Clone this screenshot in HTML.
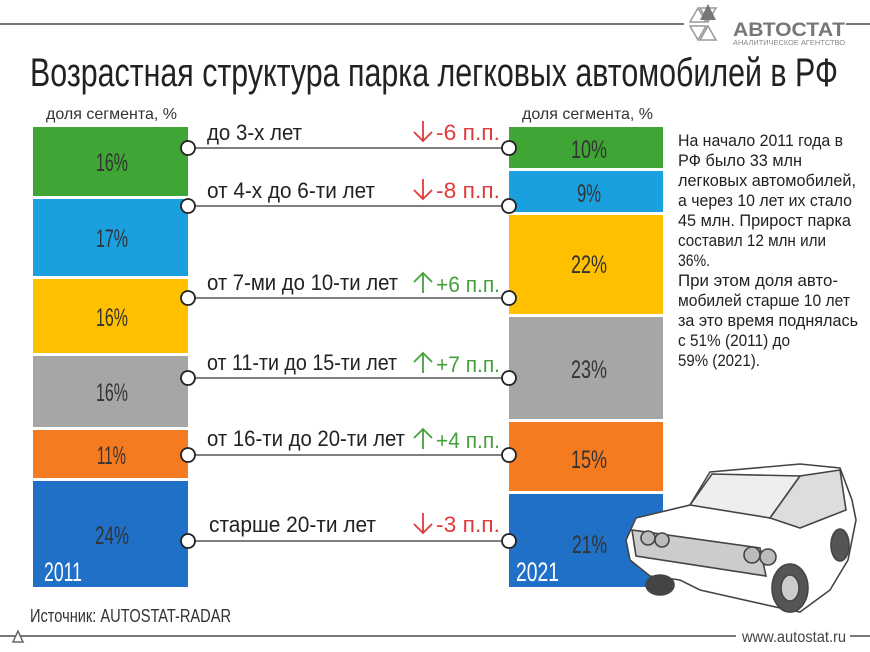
<!DOCTYPE html>
<html><head><meta charset="utf-8"><style>
html,body{margin:0;padding:0;background:#fff;}
svg{display:block;}
text{font-family:"Liberation Sans Narrow","Liberation Sans",sans-serif;}
</style></head><body>
<svg width="870" height="652" viewBox="0 0 870 652" xmlns="http://www.w3.org/2000/svg">
<rect width="870" height="652" fill="#fff"/>
<line x1="0" y1="24" x2="684" y2="24" stroke="#777" stroke-width="2"/>
<line x1="846" y1="24" x2="870" y2="24" stroke="#777" stroke-width="2"/>
<g fill="none" stroke="#999" stroke-width="1.5">
<polygon points="690,22 698,8 706,22"/><polygon points="700,8 716,8 708,22"/>
<polygon points="690,26 706,26 698,40"/><polygon points="708,26 716,40 700,40"/>
</g>
<polygon points="708,4 716,20 700,20" fill="#777"/>
<text x="733" y="36" font-size="19" font-weight="bold" fill="#777" textLength="112" lengthAdjust="spacingAndGlyphs">АВТОСТАТ</text>
<text x="733" y="45" font-size="7" fill="#888" textLength="112" lengthAdjust="spacingAndGlyphs">АНАЛИТИЧЕСКОЕ АГЕНТСТВО</text>
<text x="30" y="86" font-size="40" fill="#222" textLength="808" lengthAdjust="spacingAndGlyphs">Возрастная структура парка легковых автомобилей в РФ</text>
<text x="46" y="119" font-size="16" fill="#333" textLength="131" lengthAdjust="spacingAndGlyphs">доля сегмента, %</text>
<text x="522" y="119" font-size="16" fill="#333" textLength="131" lengthAdjust="spacingAndGlyphs">доля сегмента, %</text>
<rect x="33" y="127" width="155" height="69" fill="#3fa535"/>
<rect x="33" y="199" width="155" height="77" fill="#1ba0df"/>
<rect x="33" y="279" width="155" height="74" fill="#ffc000"/>
<rect x="33" y="356" width="155" height="71" fill="#a6a6a6"/>
<rect x="33" y="430" width="155" height="48" fill="#f47b20"/>
<rect x="33" y="481" width="155" height="106" fill="#1f70c6"/>
<rect x="509" y="127" width="154" height="41" fill="#3fa535"/>
<rect x="509" y="171" width="154" height="41" fill="#1ba0df"/>
<rect x="509" y="215" width="154" height="99" fill="#ffc000"/>
<rect x="509" y="317" width="154" height="102" fill="#a6a6a6"/>
<rect x="509" y="422" width="154" height="69" fill="#f47b20"/>
<rect x="509" y="494" width="154" height="93" fill="#1f70c6"/>
<g font-size="25" fill="#333">
<text x="96" y="171" textLength="32" lengthAdjust="spacingAndGlyphs">16%</text>
<text x="96" y="247" textLength="32" lengthAdjust="spacingAndGlyphs">17%</text>
<text x="96" y="326" textLength="32" lengthAdjust="spacingAndGlyphs">16%</text>
<text x="96" y="401" textLength="32" lengthAdjust="spacingAndGlyphs">16%</text>
<text x="97" y="464" textLength="29" lengthAdjust="spacingAndGlyphs">11%</text>
<text x="95" y="544" textLength="34" lengthAdjust="spacingAndGlyphs">24%</text>
<text x="571" y="158" textLength="36" lengthAdjust="spacingAndGlyphs">10%</text>
<text x="577" y="202" textLength="24" lengthAdjust="spacingAndGlyphs">9%</text>
<text x="571" y="273" textLength="36" lengthAdjust="spacingAndGlyphs">22%</text>
<text x="571" y="378" textLength="36" lengthAdjust="spacingAndGlyphs">23%</text>
<text x="571" y="468" textLength="36" lengthAdjust="spacingAndGlyphs">15%</text>
<text x="572" y="553" textLength="35" lengthAdjust="spacingAndGlyphs">21%</text>
</g>
<g font-size="27" fill="#fff">
<text x="44" y="581" textLength="38" lengthAdjust="spacingAndGlyphs">2011</text>
<text x="516" y="581" textLength="43" lengthAdjust="spacingAndGlyphs">2021</text>
</g>
<g stroke="#333" stroke-width="1.2">
<line x1="188" y1="148" x2="509" y2="148"/><line x1="188" y1="206" x2="509" y2="206"/>
<line x1="188" y1="298" x2="509" y2="298"/><line x1="188" y1="378" x2="509" y2="378"/>
<line x1="188" y1="455" x2="509" y2="455"/><line x1="188" y1="541" x2="509" y2="541"/>
</g>
<g fill="#fff" stroke="#222" stroke-width="1.8">
<circle cx="188" cy="148" r="7"/><circle cx="509" cy="148" r="7"/>
<circle cx="188" cy="206" r="7"/><circle cx="509" cy="206" r="7"/>
<circle cx="188" cy="298" r="7"/><circle cx="509" cy="298" r="7"/>
<circle cx="188" cy="378" r="7"/><circle cx="509" cy="378" r="7"/>
<circle cx="188" cy="455" r="7"/><circle cx="509" cy="455" r="7"/>
<circle cx="188" cy="541" r="7"/><circle cx="509" cy="541" r="7"/>
</g>
<g font-size="22" fill="#222">
<text x="207" y="140" textLength="95" lengthAdjust="spacingAndGlyphs">до 3-х лет</text>
<text x="207" y="198" textLength="168" lengthAdjust="spacingAndGlyphs">от 4-х до 6-ти лет</text>
<text x="207" y="290" textLength="191" lengthAdjust="spacingAndGlyphs">от 7-ми до 10-ти лет</text>
<text x="207" y="370" textLength="190" lengthAdjust="spacingAndGlyphs">от 11-ти до 15-ти лет</text>
<text x="207" y="446" textLength="198" lengthAdjust="spacingAndGlyphs">от 16-ти до 20-ти лет</text>
<text x="209" y="532" textLength="167" lengthAdjust="spacingAndGlyphs">старше 20-ти лет</text>
</g>
<g fill="none" stroke-width="1.8">
<g stroke="#e03a3a">
<path d="M423 121 V141 M414 132 L423 141 L432 132"/>
<path d="M423 179 V199 M414 190 L423 199 L432 190"/>
<path d="M423 513 V533 M414 524 L423 533 L432 524"/>
</g>
<g stroke="#45a03c">
<path d="M423 293 V273 M414 282 L423 273 L432 282"/>
<path d="M423 373 V353 M414 362 L423 353 L432 362"/>
<path d="M423 449 V429 M414 438 L423 429 L432 438"/>
</g>
</g>
<g font-size="22">
<text x="436" y="140" fill="#e03a3a" textLength="64" lengthAdjust="spacingAndGlyphs">-6 п.п.</text>
<text x="436" y="198" fill="#e03a3a" textLength="64" lengthAdjust="spacingAndGlyphs">-8 п.п.</text>
<text x="436" y="532" fill="#e03a3a" textLength="64" lengthAdjust="spacingAndGlyphs">-3 п.п.</text>
<text x="436" y="292" fill="#45a03c" textLength="64" lengthAdjust="spacingAndGlyphs">+6 п.п.</text>
<text x="436" y="372" fill="#45a03c" textLength="64" lengthAdjust="spacingAndGlyphs">+7 п.п.</text>
<text x="436" y="448" fill="#45a03c" textLength="64" lengthAdjust="spacingAndGlyphs">+4 п.п.</text>
</g>
<g font-size="17" fill="#222">
<text x="678" y="146" textLength="165" lengthAdjust="spacingAndGlyphs">На начало 2011 года в</text>
<text x="678" y="166" textLength="124" lengthAdjust="spacingAndGlyphs">РФ было 33 млн</text>
<text x="678" y="186" textLength="178" lengthAdjust="spacingAndGlyphs">легковых автомобилей,</text>
<text x="678" y="206" textLength="174" lengthAdjust="spacingAndGlyphs">а через 10 лет их стало</text>
<text x="678" y="226" textLength="173" lengthAdjust="spacingAndGlyphs">45 млн. Прирост парка</text>
<text x="678" y="246" textLength="148" lengthAdjust="spacingAndGlyphs">составил 12 млн или</text>
<text x="678" y="266" textLength="32" lengthAdjust="spacingAndGlyphs">36%.</text>
<text x="678" y="286" textLength="160" lengthAdjust="spacingAndGlyphs">При этом доля авто-</text>
<text x="678" y="306" textLength="172" lengthAdjust="spacingAndGlyphs">мобилей старше 10 лет</text>
<text x="678" y="326" textLength="180" lengthAdjust="spacingAndGlyphs">за это время поднялась</text>
<text x="678" y="346" textLength="112" lengthAdjust="spacingAndGlyphs">с 51% (2011) до</text>
<text x="678" y="366" textLength="82" lengthAdjust="spacingAndGlyphs">59% (2021).</text>
</g>
<g stroke="#444" stroke-width="1.6" fill="#fff">
<path d="M630 560 L626 540 L636 518 L690 505 L710 472 L800 464 L840 468 L852 500 L856 520 L848 560 L830 590 L800 612 L780 608 L700 590 L680 580 L650 576 Z"/>
<path d="M690 505 L770 518 L800 476 L712 474 Z" fill="#eee"/>
<path d="M800 476 L770 518 L800 528 L846 510 L840 470 Z" fill="#ddd"/>
<path d="M632 530 L760 548 L766 576 L636 556 Z" fill="#ccc"/>
<circle cx="648" cy="538" r="7" fill="#bbb"/><circle cx="662" cy="540" r="7" fill="#bbb"/>
<circle cx="752" cy="555" r="8" fill="#bbb"/><circle cx="768" cy="557" r="8" fill="#bbb"/>
<ellipse cx="790" cy="588" rx="18" ry="24" fill="#555"/>
<ellipse cx="790" cy="588" rx="9" ry="13" fill="#ccc"/>
<ellipse cx="660" cy="585" rx="14" ry="10" fill="#444"/>
<ellipse cx="840" cy="545" rx="9" ry="16" fill="#555"/>
</g>
<text x="30" y="622" font-size="18" fill="#333" textLength="201" lengthAdjust="spacingAndGlyphs">Источник: AUTOSTAT-RADAR</text>
<line x1="0" y1="636" x2="736" y2="636" stroke="#777" stroke-width="2"/>
<line x1="850" y1="636" x2="870" y2="636" stroke="#777" stroke-width="2"/>
<polygon points="13,642 18,631 23,642" fill="#fff" stroke="#666" stroke-width="1.5"/>
<text x="742" y="642" font-size="16" fill="#444" textLength="104" lengthAdjust="spacingAndGlyphs">www.autostat.ru</text>
</svg>
</body></html>
